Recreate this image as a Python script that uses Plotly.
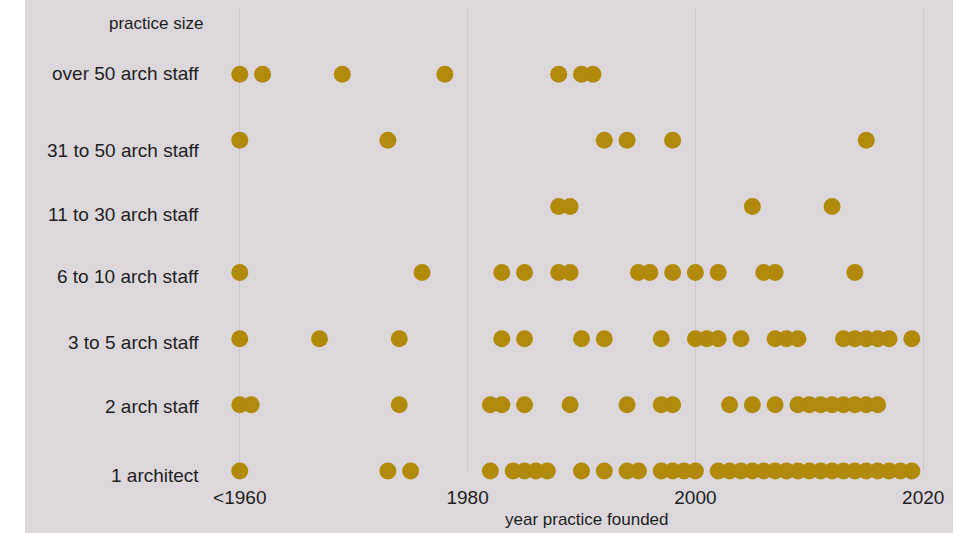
import plotly.graph_objects as go

# practice sizes, bottom row first
sizes = ["1 architect", "2 arch staff", "3 to 5 arch staff", "6 to 10 arch staff",
         "11 to 30 arch staff", "31 to 50 arch staff", "over 50 arch staff"]

# year each practice was founded (1960 stands for <1960)
years_1 = [1960, 1973, 1975, 1982, 1984, 1985, 1986, 1987, 1990, 1992, 1994, 1995,
           1997, 1998, 1999, 2000, 2002, 2003, 2004, 2005, 2006, 2007, 2008, 2009,
           2010, 2011, 2012, 2013, 2014, 2015, 2016, 2017, 2018, 2019]
years_2 = [1960, 1961, 1974, 1982, 1983, 1985, 1989, 1994, 1997, 1998, 2003, 2005,
           2007, 2009, 2010, 2011, 2012, 2013, 2014, 2015, 2016]
years_3_5 = [1960, 1967, 1974, 1983, 1985, 1990, 1992, 1997, 2000, 2001, 2002, 2004,
             2007, 2008, 2009, 2013, 2014, 2015, 2016, 2017, 2019]
years_6_10 = [1960, 1976, 1983, 1985, 1988, 1989, 1995, 1996, 1998, 2000, 2002,
              2006, 2007, 2014]
years_11_30 = [1988, 1989, 2005, 2012]
years_31_50 = [1960, 1973, 1992, 1994, 1998, 2015]
years_50 = [1960, 1962, 1969, 1978, 1988, 1990, 1991]

tick_vals = [1960, 1980, 2000, 2020]
tick_text = ["<1960", "1980", "2000", "2020"]

all_years = [years_1, years_2, years_3_5, years_6_10, years_11_30, years_31_50, years_50]

BG = "#dcd7db"
DOT = "#b28a0b"
TXT = "#1e1e1e"
FONT = "Liberation Sans, Arial, sans-serif"

x = []
y = []
for i, yrs in enumerate(all_years):
    x += yrs
    y += [i] * len(yrs)

fig = go.Figure()
fig.add_trace(go.Scatter(x=x, y=y, mode="markers",
                         marker=dict(size=17, color=DOT, line=dict(width=0)),
                         cliponaxis=False, hoverinfo="x+y", showlegend=False))

# row labels (small vertical nudges in px, as in the original)
nudge = [-4, -2, -4, -4, -8, -10, 1]
for i, name in enumerate(sizes):
    fig.add_annotation(x=0, xref="paper", xshift=-16, xanchor="right",
                       y=i, yref="y", yshift=nudge[i], yanchor="middle",
                       text=name, showarrow=False,
                       font=dict(size=19, color=TXT, family=FONT))

fig.add_annotation(x=0, xref="paper", xshift=-12, xanchor="right",
                   y=7, yref="y", yshift=-15, yanchor="middle",
                   text="practice size", showarrow=False,
                   font=dict(size=17, color=TXT, family=FONT))

# x axis title
fig.add_annotation(x=0.5, xref="paper", xshift=5, xanchor="center",
                   y=0, yref="paper", yshift=-48, yanchor="middle",
                   text="year practice founded", showarrow=False,
                   font=dict(size=17, color=TXT, family=FONT))

L, R, T, B = 217, 7, 8, 62
W, H = 953, 533
pw, ph = W - L - R, H - T - B

# white strip at the far left
fig.add_shape(type="rect", xref="paper", yref="paper",
              x0=-L / pw, x1=-(L - 25) / pw, y0=-B / ph - 0.01, y1=1 + T / ph + 0.01,
              fillcolor="white", line=dict(width=0), layer="below")

fig.update_layout(
    width=W, height=H,
    margin=dict(l=L, r=R, t=T, b=B),
    paper_bgcolor=BG, plot_bgcolor=BG,
    font=dict(family=FONT, color=TXT),
    xaxis=dict(range=[1958, 2022], tickvals=tick_vals, ticktext=tick_text,
               showgrid=True, gridcolor="#cdc8cc", gridwidth=1, zeroline=False,
               showline=False, ticks="", ticklabelstandoff=13,
               tickfont=dict(size=19, color=TXT)),
    yaxis=dict(range=[0, 7], showgrid=False, zeroline=False, showline=False,
               showticklabels=False, ticks=""),
)

fig.write_html("out.html", config={"displayModeBar": False},
               post_script="document.body.style.margin='0';"
                           "document.body.style.overflow='hidden';")
